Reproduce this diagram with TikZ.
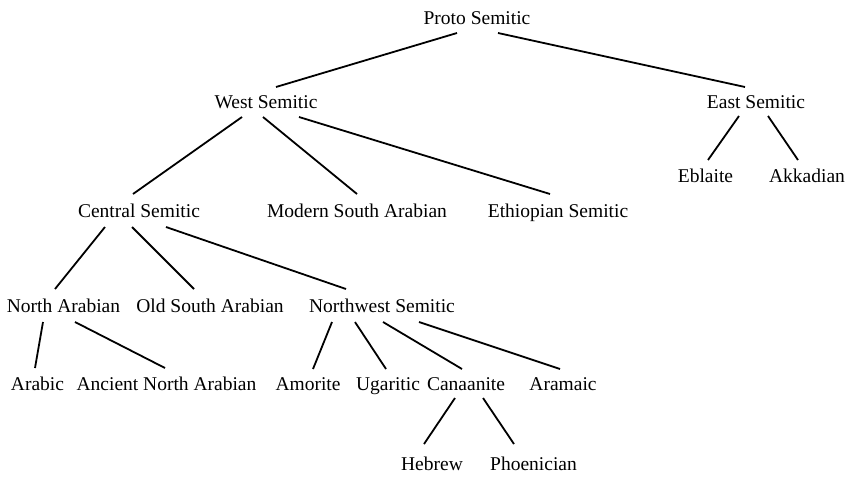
\documentclass[tikz,border=0pt]{standalone}
\usepackage{fontspec}
\setmainfont{Liberation Serif}
\begin{document}
\begin{tikzpicture}[x=1pt,y=-1pt,
  lang/.style={anchor=base,inner sep=0pt,font=\fontsize{19.5}{22}\selectfont},
  branch/.style={line width=1.8pt}]
\useasboundingbox (0,0) rectangle (857,482);
% level 0
\node[lang] (ps) at (477,24) {Proto Semitic};
% level 1
\node[lang] (ws) at (266,108) {West Semitic};
\node[lang] (es) at (756,108) {East Semitic};
% level 2
\node[lang] (cs) at (139,217) {Central Semitic};
\node[lang] (msa) at (357,217) {Modern South Arabian};
\node[lang] (eths) at (558,217) {Ethiopian Semitic};
\node[lang] (ebl) at (705.5,182) {Eblaite};
\node[lang] (akk) at (807,182) {Akkadian};
% level 3
\node[lang] (na) at (63.5,312) {North Arabian};
\node[lang] (osa) at (210,312) {Old South Arabian};
\node[lang] (nws) at (382,312) {Northwest Semitic};
% level 4
\node[lang] (arb) at (37.5,390) {Arabic};
\node[lang] (ana) at (166.5,390) {Ancient North Arabian};
\node[lang] (amo) at (308,390) {Amorite};
\node[lang] (uga) at (388,390) {Ugaritic};
\node[lang] (can) at (466,390) {Canaanite};
\node[lang] (ara) at (563,390) {Aramaic};
% level 5
\node[lang] (heb) at (432,470) {Hebrew};
\node[lang] (pho) at (533.5,470) {Phoenician};
% connectors
\draw[branch] ([xshift=-20pt,yshift=-9pt]ps.base) -- ([xshift=10pt,yshift=21pt]ws.base);
\draw[branch] ([xshift=21pt,yshift=-9pt]ps.base) -- ([xshift=-11pt,yshift=21pt]es.base);
\draw[branch] ([xshift=-24pt,yshift=-9pt]ws.base) -- ([xshift=-6pt,yshift=23pt]cs.base);
\draw[branch] ([xshift=-3pt,yshift=-9pt]ws.base) -- ([xshift=0pt,yshift=23pt]msa.base);
\draw[branch] ([xshift=33pt,yshift=-9pt]ws.base) -- ([xshift=-8pt,yshift=23pt]eths.base);
\draw[branch] ([xshift=-17pt,yshift=-8pt]es.base) -- ([xshift=2.5pt,yshift=22pt]ebl.base);
\draw[branch] ([xshift=12pt,yshift=-8pt]es.base) -- ([xshift=-9pt,yshift=22pt]akk.base);
\draw[branch] ([xshift=-34pt,yshift=-10pt]cs.base) -- ([xshift=-8.5pt,yshift=23pt]na.base);
\draw[branch] ([xshift=-7pt,yshift=-10pt]cs.base) -- ([xshift=-16pt,yshift=23pt]osa.base);
\draw[branch] ([xshift=27pt,yshift=-10pt]cs.base) -- ([xshift=-36pt,yshift=23pt]nws.base);
\draw[branch] ([xshift=-20.5pt,yshift=-10pt]na.base) -- ([xshift=-2.5pt,yshift=22pt]arb.base);
\draw[branch] ([xshift=11.5pt,yshift=-10pt]na.base) -- ([xshift=-1.5pt,yshift=22pt]ana.base);
\draw[branch] ([xshift=-50pt,yshift=-10pt]nws.base) -- ([xshift=5pt,yshift=21pt]amo.base);
\draw[branch] ([xshift=-27pt,yshift=-10pt]nws.base) -- ([xshift=-2pt,yshift=21pt]uga.base);
\draw[branch] ([xshift=1pt,yshift=-10pt]nws.base) -- ([xshift=-4pt,yshift=21pt]can.base);
\draw[branch] ([xshift=37pt,yshift=-10pt]nws.base) -- ([xshift=-3pt,yshift=21pt]ara.base);
\draw[branch] ([xshift=-11pt,yshift=-8pt]can.base) -- ([xshift=-8pt,yshift=26pt]heb.base);
\draw[branch] ([xshift=17pt,yshift=-8pt]can.base) -- ([xshift=-19.5pt,yshift=26pt]pho.base);
\end{tikzpicture}
\end{document}
